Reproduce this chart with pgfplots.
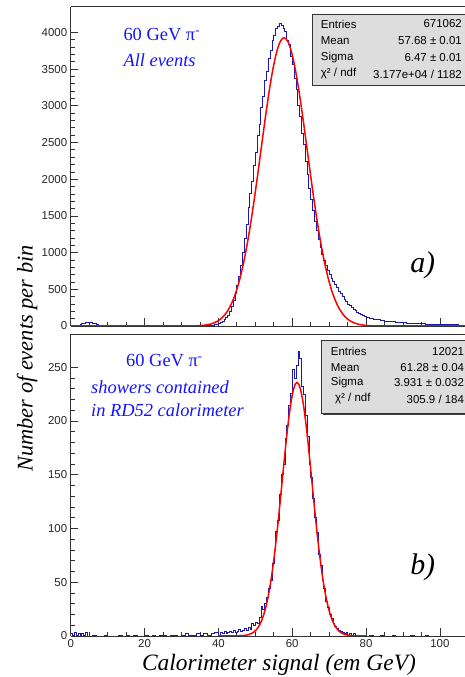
\documentclass[border=0pt]{standalone}
\usepackage{fontspec}
\setmainfont{Liberation Serif}
\newfontfamily\hel{Liberation Sans}
\usepackage{pgfplots}
\pgfplotsset{compat=1.18}
\definecolor{histblue}{RGB}{25,25,175}
\definecolor{txtblue}{RGB}{20,20,255}
\definecolor{boxgray}{RGB}{221,221,221}

\pgfplotsset{rootstyle/.style={
 scale only axis, width=394.3bp,
 xmin=0, xmax=106.8,
 axis x line*=box, axis y line*=left,
 xtick pos=left, ytick pos=left,
 tick align=inside,
 xtick={0,20,...,100}, minor x tick num=3,
 major tick length=7.7bp, minor tick length=4bp,
 axis line style={black!80, line width=0.8bp},
 tick style={black!80, line width=0.7bp},
 ticklabel style={font=\hel\fontsize{11.5}{13}\selectfont, text=black!85},
 /pgf/number format/assume math mode=true,
 /pgf/number format/1000 sep={},
 anchor=south west,
}}

\pgfplotstableread{
x y
0 0
1 2
2 8
2.5 18
3 30
3.5 40
4 47
4.5 52
5 50
5.5 48
6 42
6.5 33
7 22
7.5 14
8 8
9 4
10 2
11 1
12 2
13 1
14 1
15 2
16 1
17 1
18 2
19 1
20 1
21 2
22 1
23 2
24 1
25 2
26 2
27 3
28 2
29 2
30 2
31 3
32 2
33 3
34 3
35 4
36 5
37 8
38 12
39 20
40 35
40.5 47
41 63
41.5 85
42 112
42.5 150
43 200
43.5 265
44 345
44.5 440
45 550
45.5 680
46 830
46.5 1000
47 1190
47.5 1380
48 1620
48.5 1800
49 1970
49.5 2190
50 2360
50.5 2590
51 2750
51.5 2975
52 3130
52.5 3340
53 3475
53.5 3650
54 3750
54.5 3895
55 3960
55.5 4050
56 4080
56.5 4120
57 4096
57.5 4050
58 4020
58.5 3890
59 3835
59.5 3670
60 3560
60.5 3370
61 3230
61.5 3010
62 2860
62.5 2630
63 2470
63.5 2240
64 2070
64.5 1880
65 1720
65.5 1570
66 1430
66.5 1300
67 1180
67.5 1070
68 975
68.5 890
69 820
69.5 760
70 705
70.5 655
71 610
71.5 565
72 520
72.5 478
73 440
73.5 400
74 362
74.5 330
75 300
75.5 275
76 252
76.5 230
77 210
77.5 192
78 175
78.5 160
79 146
79.5 133
80 120
81 106
82 95
83 85
84 76
85 68
86 62
87 56
88 51
89 47
90 43
91 39
92 36
93 34
94 32
95 30
96 28
97 26
98 25
99 23
100 22
101 20
102 18
103 17
104 15
105 14
106 13
107 12
}\histA

\pgfplotstableread{
x y
0 0
29.8 0.2
30.8 0.4
31.8 0.8
32.8 1.5
33.8 2.8
34.8 5.0
35.8 8.8
36.8 15.2
37.8 25.4
38.8 41.6
39.8 66
40.8 103
41.8 156
42.8 231
43.8 333
44.8 467
45.8 640
46.8 855
47.8 1114
48.8 1416
49.8 1754
50.8 2119
51.8 2496
52.8 2867
53.8 3211
54.8 3507
55.8 3735
56.8 3879
57.8 3928
58.8 3879
59.8 3735
60.8 3507
61.8 3211
62.8 2867
63.8 2496
64.8 2119
65.8 1754
66.8 1416
67.8 1114
68.8 855
69.8 640
70.8 467
71.8 333
72.8 231
73.8 156
74.8 103
75.8 66
76.8 41.6
77.8 25.4
78.8 15.2
79.8 8.8
80.8 5.0
81.8 2.8
82.8 1.5
83.8 0.8
84.8 0.4
85.8 0.2
107 0
}\fitA

\pgfplotstableread{
x y
0 2
0.5 1
1 3
1.5 1
2 2
2.5 0
3 2
3.5 1
4 3
4.5 0
5 0
6 1
7 0
9 1
10 0
13 1
14 0
15 1
16 0
17 1
18 0
20 1
21 0
22 1
23 0
24 1
25 1
26 0
27 1
28 1
29 0
30 1
31 2
32 1
33 1
34 2
35 1
36 2
37 1
38 2
39 3
40.05 1
40.55 3
41.05 2
41.55 4
42.05 2
42.55 3
43.05 4
43.55 3
44.05 5
44.55 3
45.05 4
45.55 6
46.05 4
46.55 5
47.05 7
47.55 5
48.05 8
48.55 6
49.05 12
49.55 10
50.05 13
50.55 12
51.05 17
51.55 28
52.05 25
52.55 30
53.05 36
53.55 44
54.05 52
54.55 68
55.05 80
55.55 97
56.05 108
56.55 132
57.05 150
57.55 160
58.05 184
58.55 196
59.05 215
59.55 226
60.05 248
60.55 240
61.05 252
61.55 265
62.05 258
62.55 232
63.05 225
63.55 205
64.05 186
64.55 160
65.05 148
65.55 128
66.05 110
66.55 96
67.05 76
67.55 66
68.05 52
68.55 44
69.05 32
69.55 27
70.05 20
70.55 16
71.05 12
71.55 9
72.05 7
72.55 5
73.05 4
73.55 3
74.05 2
74.55 3
75.05 1
75.55 2
76.05 1
76.55 2
77.05 1
78 0
79 1
80 0
81 1
82 0
84 1
85 0
87 1
88 0
92 1
93 0
96 1
97 0
107 0
}\histB

\pgfplotstableread{
x y
40 0
45 0.07
47.3 0.6
48.3 1.37
49.3 2.9
49.8 4.2
50.3 5.9
50.8 8.2
51.3 11.2
51.8 15.1
52.3 20.0
52.8 26.1
53.3 33.5
53.8 42.5
54.3 53.0
54.8 65.1
55.3 78.8
55.8 93.8
56.3 110.1
56.8 127.3
57.3 144.9
57.8 162.4
58.3 179.4
58.8 195.1
59.3 208.9
59.8 220.4
60.3 228.9
60.8 234.2
61.3 236.0
61.8 234.2
62.3 228.9
62.8 220.4
63.3 208.9
63.8 195.1
64.3 179.4
64.8 162.4
65.3 144.9
65.8 127.3
66.3 110.1
66.8 93.8
67.3 78.8
67.8 65.1
68.3 53.0
68.8 42.5
69.3 33.5
69.8 26.1
70.3 20.0
70.8 15.1
71.3 11.2
71.8 8.2
72.3 5.9
72.8 4.2
73.3 2.9
74.3 1.37
75.3 0.6
77.6 0.07
80 0
}\fitB

\begin{document}
\begin{tikzpicture}
\begin{axis}[rootstyle, at={(0,310bp)}, height=319.3bp,
  ymin=0, ymax=4350, ytick={0,500,...,4000}, minor y tick num=4,
  xticklabels={}]
\addplot[const plot mark left, histblue, line width=0.8bp] table[x=x,y=y] {\histA};
\addplot[red, line width=1.5bp, smooth] table[x=x,y=y] {\fitA};
\end{axis}
\begin{axis}[rootstyle, at={(0,0)}, height=302bp,
  ymin=0, ymax=281, ytick={0,50,...,250}, minor y tick num=4]
\addplot[const plot mark left, histblue, line width=0.8bp] table[x=x,y=y] {\histB};
\addplot[red, line width=1.5bp] table[x=x,y=y] {\fitB};
\end{axis}

% axis titles
\node[rotate=90, font=\itshape\fontsize{22.5}{24}\selectfont, inner sep=0] at (-43.7bp,277.5bp) {Number of events per bin};
\node[anchor=base, font=\itshape\fontsize{23.5}{25}\selectfont, inner sep=0] at (208.3bp,-34bp) {Calorimeter signal (em GeV)};

% blue annotations top
\node[anchor=west, text=txtblue, font=\fontsize{18.5}{20}\selectfont, inner sep=0] at (52.6bp,601.5bp) {60 GeV π\textsuperscript{-}};
\node[anchor=west, text=txtblue, font=\itshape\fontsize{18.5}{20}\selectfont, inner sep=0] at (52.6bp,576bp) {All events};
% blue annotations bottom
\node[anchor=west, text=txtblue, font=\fontsize{18.5}{20}\selectfont, inner sep=0] at (55.3bp,275.3bp) {60 GeV π\textsuperscript{-}};
\node[anchor=west, text=txtblue, font=\itshape\fontsize{18.5}{20}\selectfont, inner sep=0] at (20.3bp,248.7bp) {showers contained};
\node[anchor=west, text=txtblue, font=\itshape\fontsize{18.5}{20}\selectfont, inner sep=0] at (20.3bp,225.3bp) {in RD52 calorimeter};

% panel letters
\node[font=\itshape\fontsize{30}{32}\selectfont] at (352bp,371bp) {a)};
\node[font=\itshape\fontsize{30}{32}\selectfont] at (352bp,69bp) {b)};

% stat box top
\fill[black!75] (243.1bp,549.5bp) rectangle (430bp,620.5bp);
\filldraw[fill=boxgray, draw=black!80, line width=0.7bp] (241.6bp,551bp) rectangle (428bp,622bp);
\begin{scope}[every node/.style={font=\hel\fontsize{11.5}{13}\selectfont, inner sep=0}]
\node[anchor=west] at (250bp,612bp) {Entries};
\node[anchor=west] at (250bp,595bp) {Mean};
\node[anchor=west] at (250bp,578bp) {Sigma};
\node[anchor=west] at (250bp,562bp) {χ² / ndf};
\node[anchor=east] at (391.3bp,612bp) {671062};
\node[anchor=east] at (391.3bp,595bp) {57.68 ± 0.01};
\node[anchor=east] at (391.3bp,578bp) {6.47 ± 0.01};
\node[anchor=east] at (391.3bp,562bp) {3.177e+04 / 1182};
\end{scope}

% stat box bottom
\fill[black!75] (252.5bp,221.2bp) rectangle (430bp,294.5bp);
\filldraw[fill=boxgray, draw=black!80, line width=0.7bp] (251bp,222.7bp) rectangle (428bp,296bp);
\begin{scope}[every node/.style={font=\hel\fontsize{11.5}{13}\selectfont, inner sep=0}]
\node[anchor=west] at (260bp,284.3bp) {Entries};
\node[anchor=west] at (260bp,268.7bp) {Mean};
\node[anchor=west] at (260bp,253.3bp) {Sigma};
\node[anchor=west] at (264.3bp,237bp) {χ² / ndf};
\node[anchor=east] at (393.5bp,284.3bp) {12021};
\node[anchor=east] at (393.5bp,268.7bp) {61.28 ± 0.04};
\node[anchor=east] at (393.5bp,253.3bp) {3.931 ± 0.032};
\node[anchor=east] at (393.5bp,237bp) {305.9 / 184};
\end{scope}

\pgfresetboundingbox
\path[use as bounding box] (-70.7bp,-41bp) rectangle (394.3bp,636bp);
\end{tikzpicture}
\end{document}
